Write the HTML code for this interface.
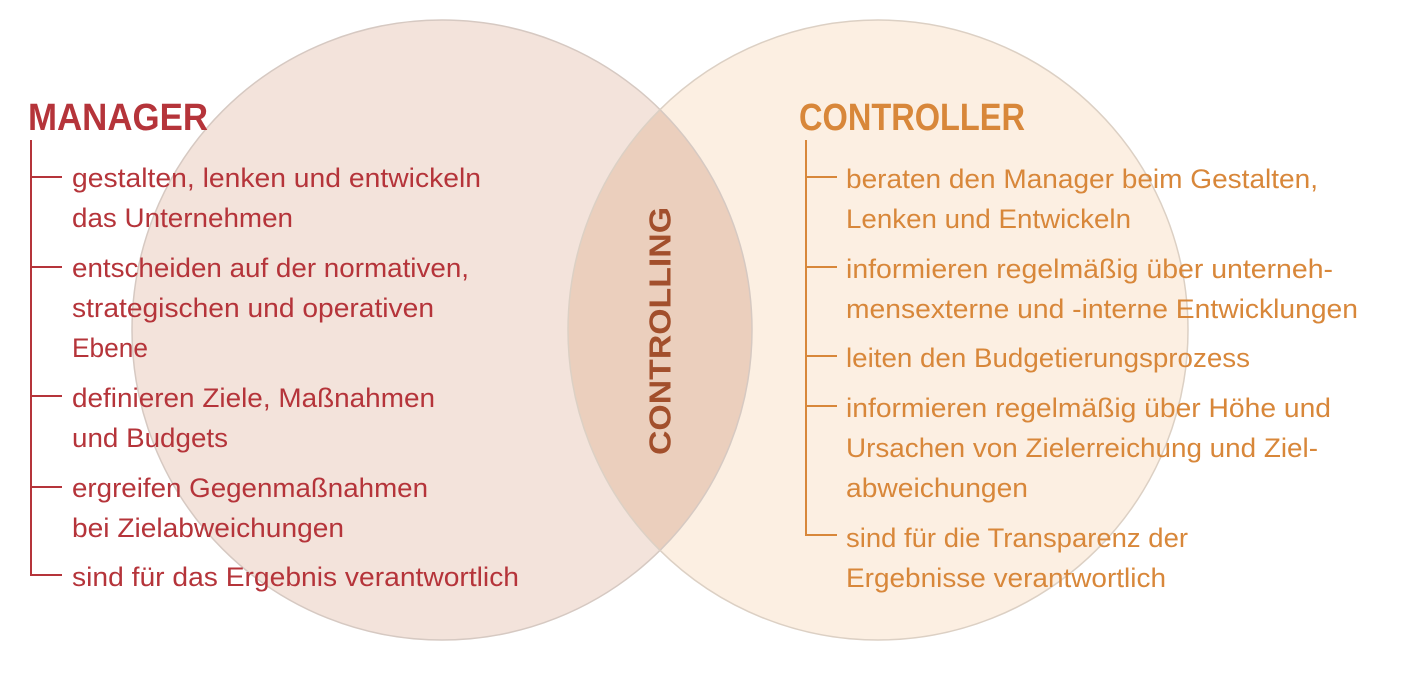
<!DOCTYPE html>
<html><head><meta charset="utf-8"><style>
html,body{margin:0;padding:0;background:#fff;}
svg{display:block;}
text{font-family:"Liberation Sans",sans-serif;}
.r{fill:#b5343a;font-size:27px;}
.o{fill:#d8873a;font-size:27px;}
</style></head><body>
<svg width="1422" height="680" viewBox="0 0 1422 680" xmlns="http://www.w3.org/2000/svg">
<defs>
<clipPath id="cl"><circle cx="442" cy="330" r="310"/></clipPath>
</defs>
<circle cx="442" cy="330" r="310" fill="#f3e3db"/>
<circle cx="878" cy="330" r="310" fill="#fcefe2"/>
<circle cx="878" cy="330" r="310" fill="#ebcfbd" clip-path="url(#cl)"/>
<circle cx="442" cy="330" r="310" fill="none" stroke="#d6c9c2" stroke-width="1.5"/>
<circle cx="878" cy="330" r="310" fill="none" stroke="#dcd0c4" stroke-width="1.5"/>

<text x="660" y="331" transform="rotate(-90 660 331)" text-anchor="middle" dominant-baseline="central" font-size="31" font-weight="bold" fill="#a24f2c" textLength="248" lengthAdjust="spacingAndGlyphs">CONTROLLING</text>

<text x="28" y="130" font-size="38" font-weight="bold" fill="#b5343a" textLength="180" lengthAdjust="spacingAndGlyphs">MANAGER</text>
<text x="799" y="130" font-size="38" font-weight="bold" fill="#d8873a" textLength="226" lengthAdjust="spacingAndGlyphs">CONTROLLER</text>

<g stroke="#b5343a" stroke-width="2" fill="none">
<path d="M31 140 V575 H62 M31 177 H62 M31 267 H62 M31 396 H62 M31 487 H62"/>
</g>
<g stroke="#d8873a" stroke-width="2" fill="none">
<path d="M806 140 V535 H837 M806 177 H837 M806 267 H837 M806 356 H837 M806 406 H837"/>
</g>

<g class="r" lengthAdjust="spacingAndGlyphs">
<text class="r" x="72" y="187" textLength="409" lengthAdjust="spacingAndGlyphs">gestalten, lenken und entwickeln</text>
<text class="r" x="72" y="227" textLength="221" lengthAdjust="spacingAndGlyphs">das Unternehmen</text>
<text class="r" x="72" y="277" textLength="397" lengthAdjust="spacingAndGlyphs">entscheiden auf der normativen,</text>
<text class="r" x="72" y="317" textLength="362" lengthAdjust="spacingAndGlyphs">strategischen und operativen</text>
<text class="r" x="72" y="357" textLength="76" lengthAdjust="spacingAndGlyphs">Ebene</text>
<text class="r" x="72" y="407" textLength="363" lengthAdjust="spacingAndGlyphs">definieren Ziele, Maßnahmen</text>
<text class="r" x="72" y="447" textLength="156" lengthAdjust="spacingAndGlyphs">und Budgets</text>
<text class="r" x="72" y="497" textLength="356" lengthAdjust="spacingAndGlyphs">ergreifen Gegenmaßnahmen</text>
<text class="r" x="72" y="537" textLength="272" lengthAdjust="spacingAndGlyphs">bei Zielabweichungen</text>
<text class="r" x="72" y="586" textLength="447" lengthAdjust="spacingAndGlyphs">sind für das Ergebnis verantwortlich</text>
</g>

<text class="o" x="846" y="188" textLength="472" lengthAdjust="spacingAndGlyphs">beraten den Manager beim Gestalten,</text>
<text class="o" x="846" y="228" textLength="285" lengthAdjust="spacingAndGlyphs">Lenken und Entwickeln</text>
<text class="o" x="846" y="278" textLength="487" lengthAdjust="spacingAndGlyphs">informieren regelmäßig über unterneh-</text>
<text class="o" x="846" y="318" textLength="512" lengthAdjust="spacingAndGlyphs">mensexterne und -interne Entwicklungen</text>
<text class="o" x="846" y="367" textLength="404" lengthAdjust="spacingAndGlyphs">leiten den Budgetierungsprozess</text>
<text class="o" x="846" y="417" textLength="485" lengthAdjust="spacingAndGlyphs">informieren regelmäßig über Höhe und</text>
<text class="o" x="846" y="457" textLength="472" lengthAdjust="spacingAndGlyphs">Ursachen von Zielerreichung und Ziel-</text>
<text class="o" x="846" y="497" textLength="182" lengthAdjust="spacingAndGlyphs">abweichungen</text>
<text class="o" x="846" y="547" textLength="342" lengthAdjust="spacingAndGlyphs">sind für die Transparenz der</text>
<text class="o" x="846" y="587" textLength="320" lengthAdjust="spacingAndGlyphs">Ergebnisse verantwortlich</text>
</svg>
</body></html>
